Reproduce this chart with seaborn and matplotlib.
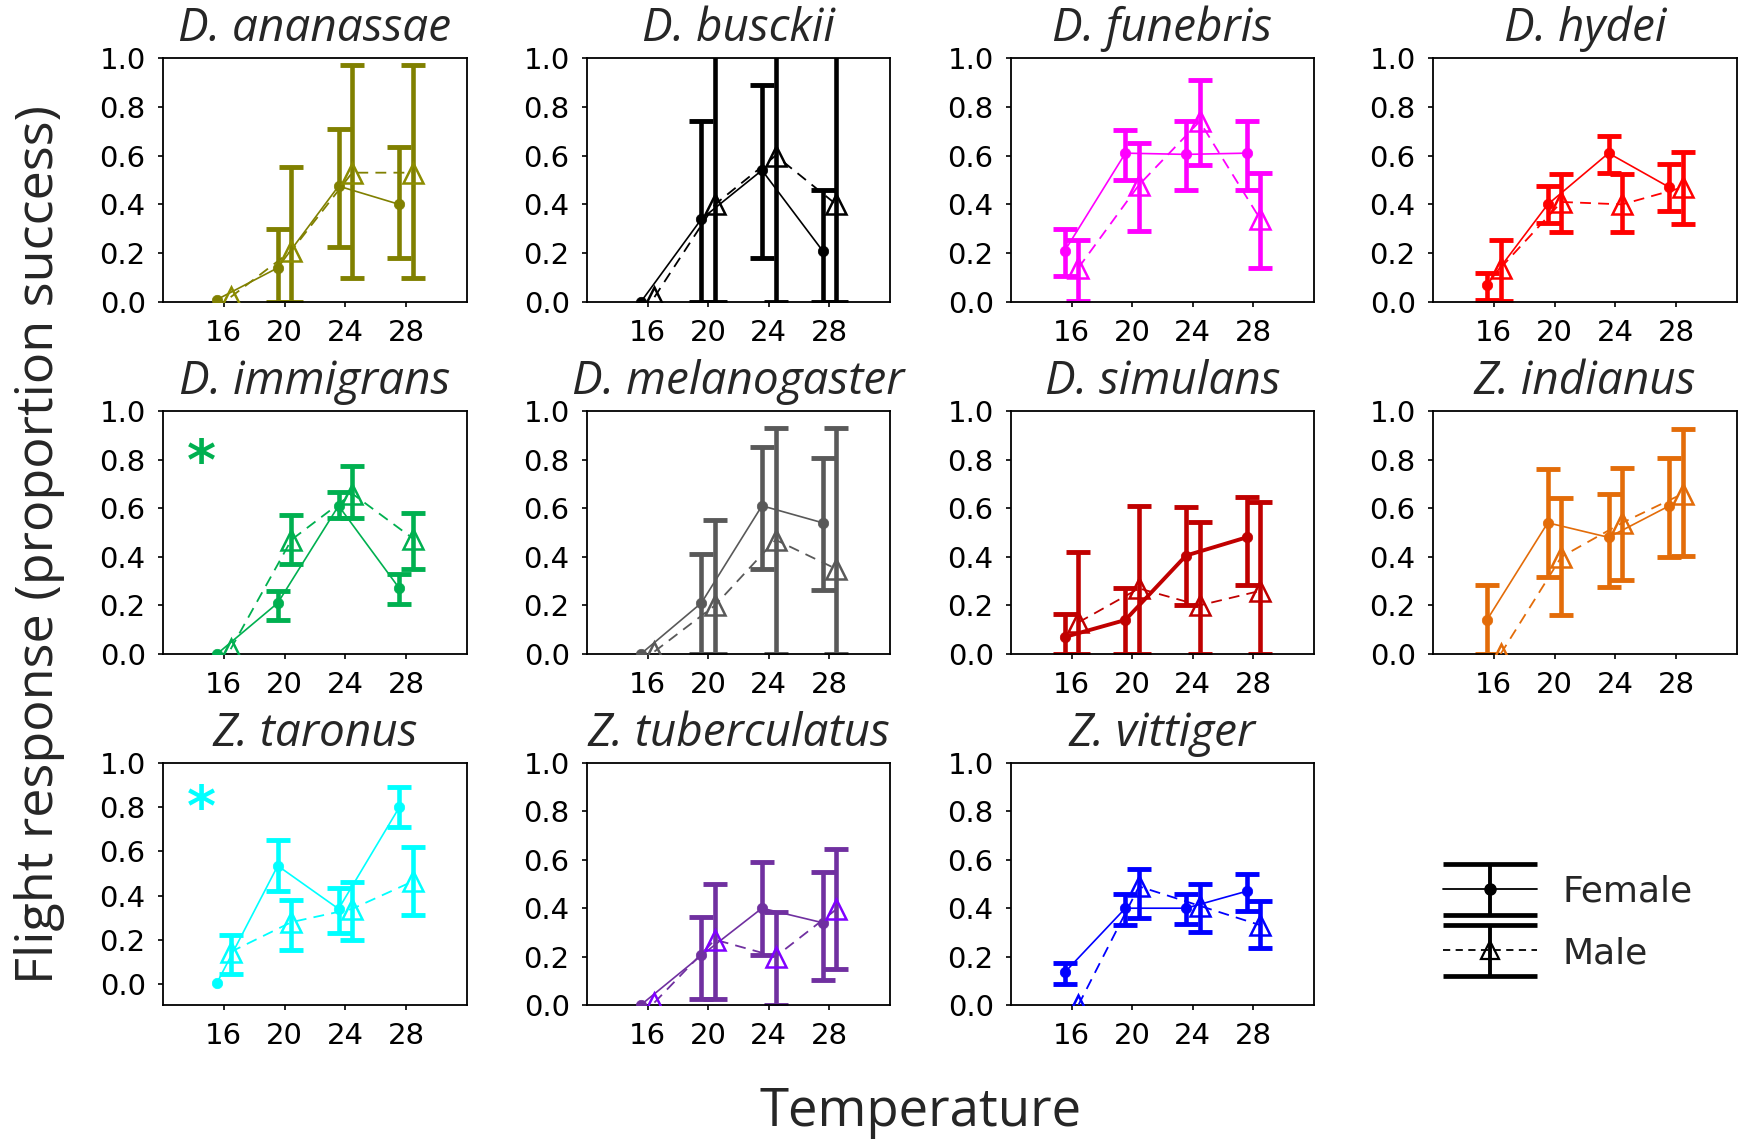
import numpy as np
import matplotlib
matplotlib.use("Agg")
import matplotlib.pyplot as plt
import seaborn as sns
from matplotlib.container import ErrorbarContainer
from matplotlib.legend_handler import HandlerErrorbar
from matplotlib.ticker import FormatStrFormatter

# ---------------------------------------------------------------- data
temps = np.array([16, 20, 24, 28])

species = ["D. ananassae", "D. busckii", "D. funebris", "D. hydei",
           "D. immigrans", "D. melanogaster", "D. simulans", "Z. indianus",
           "Z. taronus", "Z. tuberculatus", "Z. vittiger"]

colors = ["#808000", "#000000", "#FF00FF", "#FF0000",
          "#00B050", "#595959", "#C00000", "#E36C09",
          "#00FFFF", "#7030A0", "#0000FF"]

male_edge_colors = ["#8C8C00", "#000000", "#FF00FF", "#FF0000",
                    "#00B050", "#595959", "#C00000", "#E36C09",
                    "#00FFFF", "#8000FF", "#0000FF"]

female_mean = [
    [0.01, 0.14, 0.475, 0.40],
    [0.00, 0.34, 0.54, 0.21],
    [0.21, 0.61, 0.605, 0.61],
    [0.07, 0.40, 0.61, 0.47],
    [0.00, 0.21, 0.61, 0.27],
    [0.00, 0.21, 0.61, 0.54],
    [0.07, 0.14, 0.405, 0.48],
    [0.14, 0.54, 0.48, 0.61],
    [0.005, 0.535, 0.34, 0.80],
    [0.00, 0.205, 0.40, 0.34],
    [0.135, 0.40, 0.40, 0.47],
]
female_lower = [
    [0.01, 0.00, 0.225, 0.18],
    [0.00, 0.00, 0.18, 0.00],
    [0.105, 0.50, 0.46, 0.46],
    [0.01, 0.325, 0.53, 0.375],
    [0.00, 0.14, 0.56, 0.205],
    [0.00, 0.00, 0.35, 0.265],
    [0.00, 0.00, 0.20, 0.285],
    [0.00, 0.315, 0.275, 0.40],
    [0.005, 0.42, 0.23, 0.71],
    [0.00, 0.025, 0.205, 0.105],
    [0.085, 0.33, 0.335, 0.39],
]
female_upper = [
    [0.01, 0.30, 0.71, 0.635],
    [0.00, 0.74, 0.89, 0.46],
    [0.30, 0.705, 0.74, 0.74],
    [0.12, 0.475, 0.68, 0.565],
    [0.00, 0.26, 0.665, 0.33],
    [0.00, 0.41, 0.85, 0.805],
    [0.163, 0.27, 0.605, 0.645],
    [0.285, 0.76, 0.66, 0.805],
    [0.005, 0.65, 0.435, 0.89],
    [0.00, 0.365, 0.59, 0.55],
    [0.175, 0.46, 0.46, 0.54],
]

male_mean = [
    [0.02, 0.21, 0.53, 0.53],
    [0.02, 0.40, 0.60, 0.40],
    [0.14, 0.48, 0.74, 0.34],
    [0.14, 0.41, 0.40, 0.47],
    [0.02, 0.47, 0.66, 0.475],
    [0.01, 0.20, 0.47, 0.35],
    [0.13, 0.27, 0.20, 0.26],
    [0.00, 0.40, 0.54, 0.66],
    [0.145, 0.28, 0.34, 0.465],
    [0.01, 0.27, 0.20, 0.395],
    [0.00, 0.49, 0.41, 0.33],
]
male_lower = [
    [0.02, 0.00, 0.10, 0.10],
    [0.02, 0.00, 0.00, 0.00],
    [0.005, 0.29, 0.56, 0.14],
    [0.005, 0.285, 0.285, 0.32],
    [0.02, 0.37, 0.56, 0.35],
    [0.01, 0.00, 0.00, 0.00],
    [0.00, 0.00, 0.00, 0.00],
    [0.00, 0.16, 0.305, 0.405],
    [0.045, 0.155, 0.20, 0.31],
    [0.01, 0.025, 0.00, 0.15],
    [0.00, 0.36, 0.30, 0.235],
]
male_upper = [
    [0.02, 0.555, 0.97, 0.97],
    [0.02, 1.10, 1.10, 1.10],
    [0.255, 0.65, 0.91, 0.53],
    [0.255, 0.525, 0.525, 0.615],
    [0.02, 0.57, 0.775, 0.58],
    [0.01, 0.55, 0.93, 0.93],
    [0.42, 0.61, 0.545, 0.625],
    [0.00, 0.64, 0.765, 0.925],
    [0.22, 0.38, 0.46, 0.62],
    [0.01, 0.50, 0.385, 0.645],
    [0.00, 0.56, 0.50, 0.43],
]

significant = ["D. immigrans", "Z. taronus"]
thick_female_line = ["D. simulans"]
extended_ylim = ["Z. taronus"]

# ---------------------------------------------------------------- style
sns.set_theme(style="ticks")
plt.rcParams["font.family"] = ["DejaVu Sans"]
plt.rcParams.update({
    "axes.linewidth": 1.3,
    "axes.edgecolor": "black",
    "xtick.major.size": 3.5,
    "ytick.major.size": 3.5,
    "xtick.major.width": 1.2,
    "ytick.major.width": 1.2,
    "xtick.direction": "out",
    "ytick.direction": "out",
    "xtick.labelsize": 21,
    "ytick.labelsize": 21,
    "xtick.color": "black",
    "ytick.color": "black",
    "xtick.major.pad": 9,
    "ytick.major.pad": 9,
})

W, H = 1741, 1142
fig = plt.figure(figsize=(W / 100, H / 100), dpi=100)

col_px = [(163, 467), (587, 890), (1011, 1314), (1433, 1737)]
row_px = [(58, 302), (411, 654), (763, 1005)]


def frame(col, row):
    l, r = col_px[col]
    t, b = row_px[row]
    return [l / W, 1 - b / H, (r - l) / W, (b - t) / H]


offset = 0.45
err_kw = dict(fmt="none", elinewidth=3.3, capsize=8.5, capthick=3.5, zorder=2)

for i, name in enumerate(species):
    row, col = divmod(i, 4)
    ax = fig.add_axes(frame(col, row))
    c = colors[i]

    xf = temps - offset
    xm = temps + offset
    fm, flo, fhi = (np.array(a[i]) for a in (female_mean, female_lower, female_upper))
    mm, mlo, mhi = (np.array(a[i]) for a in (male_mean, male_lower, male_upper))

    # confidence bars
    for x, m, lo, hi in ((xf, fm, flo, fhi), (xm, mm, mlo, mhi)):
        keep = hi > lo
        ax.errorbar(x[keep], m[keep], yerr=[m[keep] - lo[keep], hi[keep] - m[keep]],
                    ecolor=c, **err_kw)

    # female: solid line, filled circles
    lw_f = 2.8 if name in thick_female_line else 1.2
    sns.lineplot(x=xf, y=fm, ax=ax, color=c, linewidth=lw_f, marker="o",
                 markersize=7.5, markeredgecolor=c, markeredgewidth=0.5, zorder=3)
    # male: dashed line, open triangles
    sns.lineplot(x=xm, y=mm, ax=ax, color=c, linewidth=1.3, linestyle=(0, (6, 4)),
                 marker="^", markersize=14, markerfacecolor="none",
                 markeredgecolor=male_edge_colors[i], markeredgewidth=1.8, zorder=3)

    ax.set_xlim(12, 32)
    ax.set_ylim((-0.095, 1.0) if name in extended_ylim else (0.0, 1.0))
    ax.set_xticks(temps)
    ax.set_yticks(np.arange(0, 1.01, 0.2))
    ax.yaxis.set_major_formatter(FormatStrFormatter("%.1f"))
    ax.set_xlabel("")
    ax.set_ylabel("")
    ax.set_title(name, fontsize=33, style="italic", family=["Open Sans", "DejaVu Sans"],
                 pad=12)
    for s in ax.spines.values():
        s.set_visible(True)
        s.set_color("black")

    if name in significant:
        ax.text(14.5, 0.72, "*", color=c, fontsize=40, fontweight="bold",
                ha="center", va="baseline")

# ---------------------------------------------------------------- legend
lax = fig.add_axes(frame(3, 2))
lax.axis("off")
h_f = lax.errorbar([np.nan], [np.nan], yerr=[[np.nan], [np.nan]], fmt="-o", color="black",
                   linewidth=1.3, markersize=8, elinewidth=2.8, capsize=8, capthick=3.4)
h_m = lax.errorbar([np.nan], [np.nan], yerr=[[np.nan], [np.nan]], fmt="^", color="black",
                   linestyle=(0, (4, 3)), linewidth=1.3, markersize=13,
                   markerfacecolor="none", markeredgewidth=1.6,
                   elinewidth=2.8, capsize=8, capthick=3.4)


def widen_caps(handle, orig):
    handle.update_from(orig)
    if hasattr(orig, "get_marker") and orig.get_marker() == "_":
        handle.set_markersize(68)
        handle.set_markeredgewidth(3.4)


fig.legend(handles=[h_f, h_m], labels=["Female", "Male"], loc="upper left",
           bbox_to_anchor=(1443 / W, 1 - 875 / H), frameon=False, fontsize=26,
           handlelength=2.6, handletextpad=0.7, labelspacing=0.75, borderpad=0,
           borderaxespad=0, numpoints=1,
           handler_map={ErrorbarContainer: HandlerErrorbar(yerr_size=0.7,
                                                           update_func=widen_caps)})

# ---------------------------------------------------------------- axis titles
fig.text(40 / W, 1 - 544 / H, "Flight response (proportion success)", rotation=90,
         ha="center", va="center", fontsize=37.5, family=["Open Sans", "DejaVu Sans"])
fig.text(921 / W, 1 - 1112 / H, "Temperature", ha="center", va="center",
         fontsize=38, family=["Open Sans", "DejaVu Sans"])

fig.savefig("out.png", dpi=100)
